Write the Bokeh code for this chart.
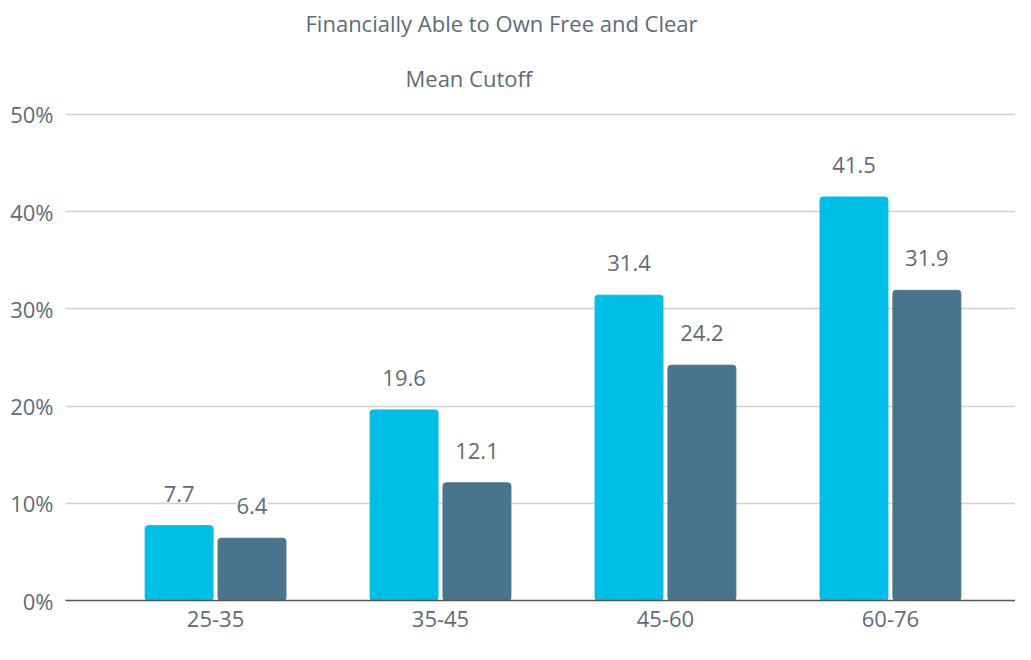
from bokeh.plotting import figure
from bokeh.models import (ColumnDataSource, Range1d, LabelSet, Title, Legend, LegendItem,
                          FixedTicker)
from bokeh.core.properties import value
from bokeh.transform import dodge
from bokeh.embed import file_html
from bokeh.resources import INLINE

categories = ["25-35", "35-45", "45-60", "60-76"]
non_ca = [7.7, 19.6, 31.4, 41.5]
california = [6.4, 12.1, 24.2, 31.9]
y_ticks = [0, 10, 20, 30, 40, 50]
title_lines = ["Financially Able to Own Free and Clear", "Mean Cutoff"]

FONT = "Open Sans"
GREY = "#5f6b77"
CYAN = "#00bfe6"
SLATE = "#48758c"

xs = list(range(len(categories)))
src = ColumnDataSource(dict(
    x=xs,
    non_ca=non_ca,
    california=california,
    non_ca_lbl=[f"{v:.1f}" for v in non_ca],
    ca_lbl=[f"{v:.1f}" for v in california],
))

p = figure(x_range=Range1d(-0.667, 3.556),
           y_range=Range1d(0, 50.4),
           frame_width=950, frame_height=490,
           output_backend="svg", toolbar_location=None,
           min_border_left=65, min_border_right=0, min_border_top=0, min_border_bottom=0,
           outline_line_color=None, background_fill_color="white")

r1 = p.vbar(x=dodge("x", -0.162), top="non_ca", width=0.302,
            source=src, color=CYAN, border_radius=3)
r2 = p.vbar(x=dodge("x", 0.162), top="california", width=0.302,
            source=src, color=SLATE, border_radius=3)

for col, lbl, off in (("non_ca", "non_ca_lbl", -0.162), ("california", "ca_lbl", 0.162)):
    ls = LabelSet(x=dodge("x", off), y=col, text=lbl, source=src,
                  text_align="center", text_baseline="middle", y_offset=32,
                  text_font=value(FONT), text_font_size="22px", text_color=GREY,
                  background_fill_color="white", background_fill_alpha=1.0)
    p.add_layout(ls)

p.yaxis.ticker = FixedTicker(ticks=y_ticks)
p.yaxis.major_label_overrides = {t: f"{t}%" for t in y_ticks}
p.yaxis.axis_line_color = None
p.yaxis.major_tick_line_color = None
p.yaxis.minor_tick_line_color = None
p.yaxis.major_label_text_font = FONT
p.yaxis.major_label_text_font_size = "22px"
p.yaxis.major_label_text_color = GREY
p.yaxis.major_label_standoff = 6

p.xaxis.ticker = FixedTicker(ticks=xs)
p.xaxis.major_label_overrides = {i: c for i, c in zip(xs, categories)}
p.xaxis.axis_line_color = "#555555"
p.xaxis.axis_line_width = 1.5
p.xaxis.major_tick_line_color = None
p.xaxis.minor_tick_line_color = None
p.xaxis.major_label_text_font = FONT
p.xaxis.major_label_text_font_size = "22px"
p.xaxis.major_label_text_color = GREY
p.xaxis.major_label_standoff = 4

p.xgrid.grid_line_color = None
p.ygrid.grid_line_color = "#d0d0d0"
p.ygrid.grid_line_width = 1.5

legend = Legend(items=[LegendItem(label="Non-CA", renderers=[r1]),
                       LegendItem(label="California", renderers=[r2])],
                orientation="horizontal", location=(318, 0),
                label_text_font=FONT, label_text_font_size="22px", label_text_color=GREY,
                label_height=18, glyph_width=16, glyph_height=16, spacing=26,
                padding=0, margin=0, border_line_color=None, background_fill_alpha=0,
                label_standoff=5)
p.add_layout(legend, "below")

p.add_layout(Title(text=title_lines[1], align="left", offset=340, text_font=FONT,
                   text_font_size="22px", text_font_style="normal", text_color=GREY,
                   standoff=36), "above")
p.add_layout(Title(text=title_lines[0], align="left", offset=240, text_font=FONT,
                   text_font_size="22px", text_font_style="normal", text_color=GREY,
                   standoff=10), "above")

open("out.html", "w").write(file_html(p, INLINE))
